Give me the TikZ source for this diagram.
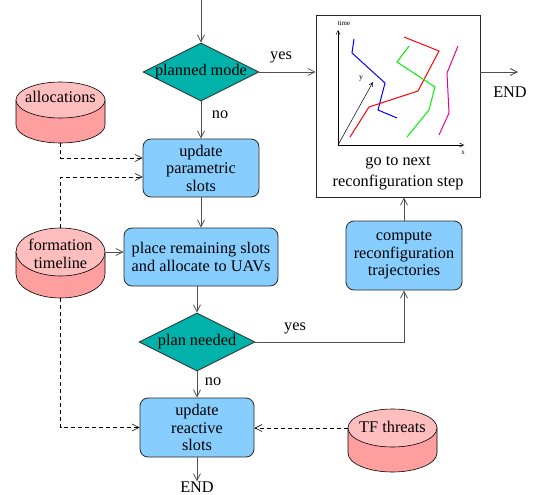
\documentclass[tikz,border=0pt]{standalone}
\usepackage{fontspec}
\setmainfont{Liberation Serif}
\usetikzlibrary{shapes.geometric,arrows.meta,calc}
\definecolor{teal2}{RGB}{0,178,170}
\definecolor{lblue}{RGB}{135,206,255}
\definecolor{ptop}{RGB}{255,190,190}
\definecolor{pside}{RGB}{255,158,158}
\definecolor{lgray}{RGB}{80,80,80}
\definecolor{dgray}{RGB}{40,40,40}
\definecolor{pgreen}{RGB}{0,240,0}
\newcommand{\mycyl}[8]{%
  \filldraw[cylside] (#2-#4,#3) -- (#2-#4,#3+#6)
     arc[start angle=180,end angle=360,x radius=#4pt,y radius=#5pt] -- (#2+#4,#3) -- cycle;
  \filldraw[cyltop] (#2,#3) ellipse[x radius=#4pt,y radius=#5pt];
  \node[inner sep=0pt,minimum width=2*#4pt,minimum height=(2*#5+#6)*1pt] (#1) at (#2,#3+#6/2) {};
  \node[inner sep=0pt,minimum width=2*#4pt,minimum height=2*#5pt] (#1top) at (#2,#3) {};
  \node[txt,inner sep=0pt] (#1txt) at (#2,#3+#8) {#7};
}
\begin{document}
\begin{tikzpicture}[x=1pt,y=-1pt,
  txt/.style={font=\fontsize{16.3}{17.5}\selectfont,align=center},
  cylside/.style={fill=pside,draw=black,line width=0.6pt},
  cyltop/.style={fill=ptop,draw=black,line width=0.6pt},
  rbox/.style={txt,draw=dgray,line width=0.8pt,fill=lblue,rounded corners=8pt,inner sep=0pt},
  dia/.style={diamond,draw=dgray,line width=0.8pt,fill=teal2,inner sep=0pt,minimum width=116pt,minimum height=58pt},
  arr/.style={draw=lgray,line width=0.8pt,-{Straight Barb[length=7pt,width=7pt]}},
  darr/.style={draw=black,line width=0.6pt,dash pattern=on 4pt off 3pt,-{Straight Barb[length=7pt,width=7pt]}},
  parr/.style={draw=black,line width=0.5pt,-{Straight Barb[length=4pt,width=4pt]}},
  trj/.style={line width=1pt},
  lbl/.style={txt,inner sep=0pt}
]
\useasboundingbox (0,0) rectangle (533,495);

% decisions
\node[dia] (pm) at (201,72) {};
\node[lbl] at (pm) {planned mode};
\node[dia] (pn) at (197,342) {};
\node[lbl] at (pn) {plan needed};

% process boxes
\node[rbox,minimum width=116pt,minimum height=58pt] (param) at (201,168) {update\\parametric\\slots};
\node[rbox,minimum width=154pt,minimum height=58pt] (place) at (201,257) {place remaining slots\\and allocate to UAVs};
\node[rbox,minimum width=114pt,minimum height=59pt] (react) at (197,427.5) {update\\reactive\\slots};
\node[rbox,minimum width=116pt,minimum height=69pt] (comp) at (404,255.5) {compute\\reconfiguration\\trajectories};

% right box
\node[draw=dgray,line width=0.8pt,fill=white,minimum width=164pt,minimum height=182pt,inner sep=0pt] (go) at (398,106) {};
\node[txt,font=\fontsize{16.3}{21}\selectfont] (gotxt) at (398,173) {go to next\\reconfiguration step};

% plot inside
\coordinate (O) at (338,145);
\draw[parr] (O) -- (338,30);
\draw[parr] (O) -- (464,145);
\draw[parr] (O) -- (373,82);
\node[font=\fontsize{7}{8}\selectfont,inner sep=0pt] (tl) at (344,23) {time};
\node[font=\fontsize{7}{8}\selectfont,inner sep=0pt] (xl) at (463,153) {x};
\node[font=\fontsize{8}{9}\selectfont,inner sep=0pt] (yl) at (361,79) {y};
\draw[trj,blue] (354,39) -- (352,53) -- (385,83) -- (378,110) -- (397,118);
\draw[trj,red] (404,37) -- (439,51) -- (418,91) -- (369,107) -- (350,137);
\draw[trj,pgreen] (409,46) -- (397,62) -- (435,87) -- (429,110) -- (407,137);
\draw[trj,magenta] (458,46) -- (447,73) -- (449,113) -- (439,135);

% cylinders
\mycyl{alloc}{60.5}{100}{44.5}{18}{25}{allocations}{-3}
\mycyl{form}{60.5}{252}{44.5}{24}{22}{formation\\timeline}{2}
\mycyl{tf}{392.5}{428}{44.5}{19}{25}{TF threats}{-1}

% terminals
\coordinate (top) at (201,0);
\coordinate (endR) at (518,72);
\node[lbl] (endRl) at (510,92) {END};
\node[lbl] (endB) at (197,487) {END};

% solid connectors
\draw[arr] (top) -- (pm.north);
\draw[arr] (pm.east) -- (pm.east -| go.west);
\node[lbl] (yes1) at (281,57) {yes};
\draw[arr] (pm.east -| go.east) -- (endR);
\draw[arr] (pm.south) -- (param.north);
\node[lbl] (no1) at (220,115) {no};
\draw[arr] (param.south) -- (place.north);
\draw[arr] (place.south -| pn.north) -- (pn.north);
\draw[arr] (pn.south) -- (react.north);
\node[lbl] (no2) at (213,382) {no};
\draw[arr] (pn.east) -| (comp.south);
\node[lbl] (yes2) at (295,328) {yes};
\draw[arr] (comp.north) -- (comp.north |- go.south);
\draw[arr] (react.south) -- (endB.north);
\draw[arr] (formtop.east) -- (formtop.east -| place.west);

% dashed connectors
\draw[darr] (alloc.south) |- ([yshift=10pt]param.west);
\draw[darr] (form.north) |- ([yshift=-9pt]param.west);
\draw[darr] (form.south) |- (react.west);
\draw[darr] (tftop.west) -- (tftop.west -| react.east);
\end{tikzpicture}
\end{document}
